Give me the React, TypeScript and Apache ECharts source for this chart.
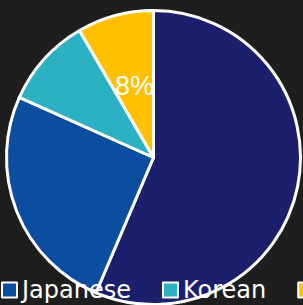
import React, { useEffect, useRef } from "react";
import * as echarts from "echarts";

const names = ["Other", "Japanese", "Korean", "Chinese"];
const values = [56.4, 25.3, 9.9, 8.4];
const colors = ["#1b1f6c", "#0b4d9f", "#2cb1c2", "#ffc000"];
const legendOrder = ["Japanese", "Korean", "Chinese", "Other"];
const labelled = ["Chinese"];

export default function App() {
  const ref = useRef<HTMLDivElement>(null);
  useEffect(() => {
    document.body.style.margin = "0";
    const chart = echarts.init(ref.current!, null, { renderer: "svg" });
    chart.setOption({
      animation: false,
      backgroundColor: "#1e1e1e",
      legend: {
        data: legendOrder,
        left: 1,
        top: 278,
        width: 1200,
        icon: "rect",
        itemWidth: 15,
        itemHeight: 15,
        itemGap: 31,
        padding: 0,
        itemStyle: { borderColor: "#ffffff", borderWidth: 2 },
        textStyle: {
          color: "#ffffff",
          fontSize: 24,
          fontFamily: "DejaVu Sans",
          padding: [0, 0, 0, 0],
        },
      },
      series: [
        {
          type: "pie",
          center: [153.5, 157.5],
          radius: [0, 147],
          startAngle: 90,
          clockwise: true,
          itemStyle: { borderColor: "#ffffff", borderWidth: 3 },
          emphasis: { disabled: true },
          labelLine: { show: false },
          data: names.map((n, i) => ({
            name: n,
            value: values[i],
            itemStyle: { color: colors[i] },
            label: {
              show: labelled.includes(n),
              position: "inside",
              formatter: (p: any) => Math.round(p.value) + "%",
              color: "#ffffff",
              fontSize: 27,
              fontFamily: "Liberation Sans",
              offset: [1, 2],
            },
          })),
        },
      ],
    });
    return () => chart.dispose();
  }, []);
  return (
    <div
      ref={ref}
      style={{ position: "absolute", left: 0, top: 0, width: 303, height: 305 }}
    />
  );
}
